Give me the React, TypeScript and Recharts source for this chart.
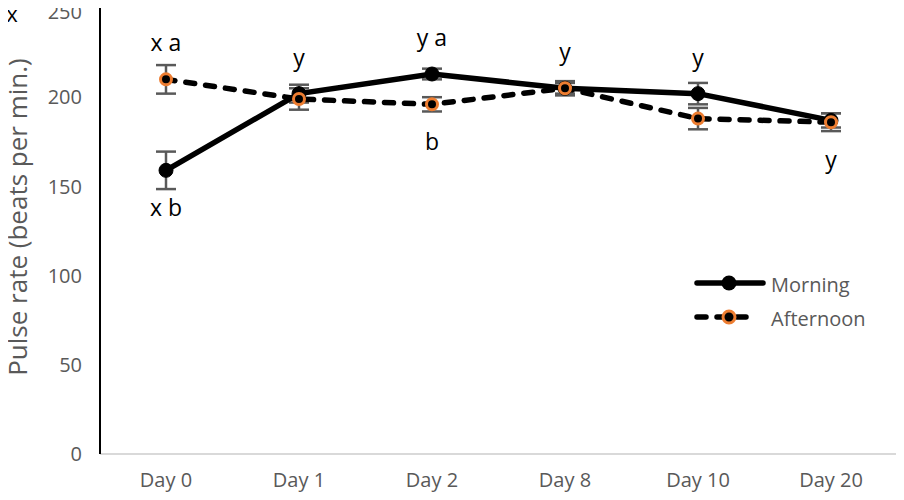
import { LineChart, Line, XAxis, YAxis, ErrorBar, LabelList, Label } from "recharts"

const days = ["Day 0", "Day 1", "Day 2", "Day 8", "Day 10", "Day 20"]
const morning = [159, 202, 213, 205, 202, 187]
const morningErr = [10.5, 5, 3, 3, 6, 4]
const afternoon = [210, 199, 196, 205, 188, 186]
const afternoonErr = [8, 6, 4, 4, 6, 5]
// letters shown next to the points; "^" = above, "v" = below
const morningLetters = ["v:x b", "^:y", "^:y a", "^:y", "^:y", ""]
const afternoonLetters = ["^:x a", "", "v:b", "", "", "v:y"]
const yTicks = [0, 50, 100, 150, 200, 250]

const ORANGE = "#ED7D31"
const GREY = "#595959"
const FONT = "'Open Sans', 'Noto Sans', sans-serif"

const data = days.map((day, i) => ({
  day,
  morning: morning[i],
  morningErr: morningErr[i],
  afternoon: afternoon[i],
  afternoonErr: afternoonErr[i],
}))

const letterContent = (letters: string[]) => (props: any) => {
  const { x, y, index } = props
  const item = letters[index]
  if (!item) return null
  const [pos, text] = item.split(":")
  const dy = pos === "^" ? -37 : 37
  return (
    <text x={x} y={y + dy} textAnchor="middle" dominantBaseline="central" fontSize={23} fill="#000" fontFamily={FONT}>
      {text}
    </text>
  )
}

// legend drawn as a small overlay, like the Excel one
const LegendBox = () => (
  <svg width={200} height={60}>
    <line x1={3} y1={13} x2={69} y2={13} stroke="#000" strokeWidth={5.5} strokeLinecap="round" />
    <circle cx={35} cy={13} r={7.5} fill="#000" />
    <text x={77} y={14} dominantBaseline="central" fontSize={20} fill={GREY} fontFamily={FONT}>Morning</text>
    <line x1={3} y1={47} x2={62} y2={47} stroke="#000" strokeWidth={5.5} strokeLinecap="round" strokeDasharray="9 11" />
    <circle cx={35} cy={47} r={6} fill="#000" stroke={ORANGE} strokeWidth={3} />
    <text x={77} y={48} dominantBaseline="central" fontSize={20} fill={GREY} fontFamily={FONT}>Afternoon</text>
  </svg>
)

export default function App() {
  return (
    <div style={{ position: "relative", margin: -8, width: 904, height: 500, background: "#fff", fontFamily: FONT }}>
      <svg style={{ position: "absolute", left: 0, top: 0 }} width={30} height={30}>
        <text x={12} y={13} textAnchor="middle" dominantBaseline="central" fontSize={22} fill="#000" fontFamily={FONT}>x</text>
      </svg>
      <div style={{ position: "absolute", left: 694, top: 270 }}>
        <LegendBox />
      </div>
      <LineChart width={904} height={500} data={data} margin={{ top: 8, right: 7, left: 0, bottom: 0 }}>
        <XAxis
          dataKey="day"
          height={46}
          padding={{ left: 66, right: 66 }}
          axisLine={{ stroke: "#d9d9d9", strokeWidth: 2 }}
          tickLine={false}
          tickMargin={13}
          tick={{ fill: GREY, fontSize: 20, fontFamily: FONT }}
        />
        <YAxis
          width={100}
          domain={[0, 250]}
          ticks={yTicks}
          axisLine={{ stroke: "#000", strokeWidth: 2 }}
          tickLine={false}
          tickMargin={12}
          tick={{ fill: GREY, fontSize: 20, fontFamily: FONT }}
        >
          <Label
            content={() => (
              <text
                transform="translate(17,217) rotate(-90)"
                textAnchor="middle"
                dominantBaseline="central"
                fontSize={26}
                fill={GREY}
                fontFamily={FONT}
              >
                Pulse rate (beats per min.)
              </text>
            )}
          />
        </YAxis>
        <Line
          dataKey="morning"
          name="Morning"
          stroke="#000"
          strokeWidth={5.5}
          dot={{ r: 7, fill: "#000", stroke: "#000", strokeWidth: 1 }}
          activeDot={false}
          isAnimationActive={false}
        >
          <ErrorBar dataKey="morningErr" direction="y" width={10} stroke={GREY} strokeWidth={2.5} />
          <LabelList dataKey="morning" content={letterContent(morningLetters)} />
        </Line>
        <Line
          dataKey="afternoon"
          name="Afternoon"
          stroke="#000"
          strokeWidth={5.5}
          strokeDasharray="9 11"
          strokeLinecap="round"
          dot={{ r: 5.5, fill: "#000", stroke: ORANGE, strokeWidth: 3, strokeDasharray: "0" }}
          activeDot={false}
          isAnimationActive={false}
        >
          <ErrorBar dataKey="afternoonErr" direction="y" width={10} stroke={GREY} strokeWidth={2.5} />
          <LabelList dataKey="afternoon" content={letterContent(afternoonLetters)} />
        </Line>
      </LineChart>
    </div>
  )
}
